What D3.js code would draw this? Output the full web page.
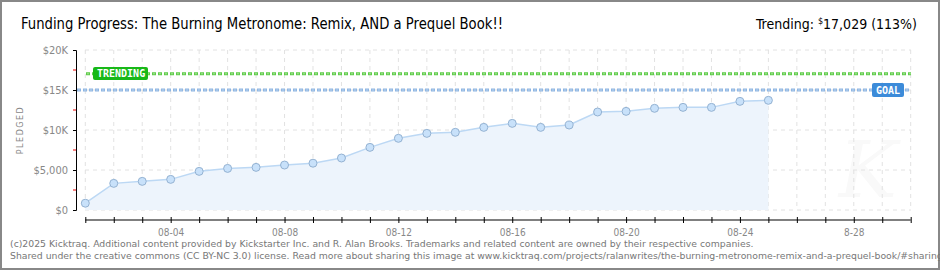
<!DOCTYPE html>
<html>
<head>
<meta charset="utf-8">
<script src="https://cdn.jsdelivr.net/npm/d3@7"></script>
<style>
  body { margin: 0; background: #fff; }
  svg { display: block; }
</style>
</head>
<body>
<svg id="chart" width="940" height="270"></svg>
<script>
// pledged totals per day, Aug 2025
var days = ["2025-08-01","2025-08-02","2025-08-03","2025-08-04","2025-08-05","2025-08-06",
  "2025-08-07","2025-08-08","2025-08-09","2025-08-10","2025-08-11","2025-08-12","2025-08-13",
  "2025-08-14","2025-08-15","2025-08-16","2025-08-17","2025-08-18","2025-08-19","2025-08-20",
  "2025-08-21","2025-08-22","2025-08-23","2025-08-24","2025-08-25"];
var pledged = [850, 3330, 3580, 3830, 4830, 5200, 5330, 5620, 5850, 6500, 7830, 8960, 9580,
  9710, 10330, 10830, 10330, 10620, 12250, 12330, 12710, 12830, 12830, 13580, 13710];
var goal = 15000;
var trending = 17029;
var yTicks = [0, 5000, 10000, 15000, 20000];
var yTickLabels = ["$0", "$5,000", "$10K", "$15K", "$20K"];
var xLabelDays = ["2025-08-04","2025-08-08","2025-08-12","2025-08-16","2025-08-20","2025-08-24","2025-08-28"];
var xLabels = ["08-04","08-08","08-12","08-16","08-20","08-24","8-28"];

var parse = d3.utcParse("%Y-%m-%d");
var fmtKey = d3.utcFormat("%Y-%m-%d");
var data = days.map(function(d, i) { return { date: parse(d), value: pledged[i] }; });

var svg = d3.select("#chart");

svg.append("rect")
  .attr("x", 1).attr("y", 1).attr("width", 938).attr("height", 268)
  .attr("fill", "#fff").attr("stroke", "#888").attr("stroke-width", 2);

var x = d3.scaleUtc()
  .domain([parse("2025-08-01"), parse("2025-08-30")])
  .range([85.3, 910.7]);
var y = d3.scaleLinear().domain([0, 20000]).range([210, 50]);

// watermark
svg.append("text")
  .attr("x", 868).attr("y", 197)
  .attr("text-anchor", "middle")
  .attr("font-family", "DejaVu Serif")
  .attr("font-style", "italic")
  .attr("font-size", 78)
  .attr("fill", "#f9f9f9")
  .text("K");

// grid
var allDays = d3.utcDay.range(x.domain()[0], d3.utcDay.offset(x.domain()[1], 1));
svg.append("g").selectAll("line")
  .data(allDays).enter().append("line")
  .attr("x1", function(d) { return x(d); }).attr("x2", function(d) { return x(d); })
  .attr("y1", 50).attr("y2", 210)
  .attr("stroke", "#e2e2e2").attr("stroke-dasharray", "4,4");
svg.append("g").selectAll("line")
  .data(yTicks).enter().append("line")
  .attr("x1", 85).attr("x2", 911)
  .attr("y1", function(d) { return y(d); }).attr("y2", function(d) { return y(d); })
  .attr("stroke", "#e2e2e2").attr("stroke-dasharray", "4,4");

// area + line
var area = d3.area()
  .x(function(d) { return x(d.date); })
  .y0(y(0))
  .y1(function(d) { return y(d.value); });
svg.append("path").datum(data)
  .attr("d", area)
  .attr("fill", "#edf4fc");
var line = d3.line()
  .x(function(d) { return x(d.date); })
  .y(function(d) { return y(d.value); });
svg.append("path").datum(data)
  .attr("d", line)
  .attr("fill", "none")
  .attr("stroke", "#bcd8f4")
  .attr("stroke-width", 1.5);

// goal and trending lines
function refLine(v, x0, outer, inner) {
  svg.append("line")
    .attr("x1", x0).attr("x2", 911).attr("y1", y(v)).attr("y2", y(v))
    .attr("stroke", outer).attr("stroke-width", 3).attr("stroke-dasharray", "4,2");
  svg.append("line")
    .attr("x1", x0 + 1).attr("x2", 911).attr("y1", y(v)).attr("y2", y(v))
    .attr("stroke", inner).attr("stroke-width", 1).attr("stroke-dasharray", "2,4");
}
refLine(goal, 77, "#8fb6e2", "#b9d3ef");
refLine(trending, 86, "#5fcb4a", "#a5e496");

// points
svg.append("g").selectAll("circle")
  .data(data).enter().append("circle")
  .attr("cx", function(d) { return x(d.date); })
  .attr("cy", function(d) { return y(d.value); })
  .attr("r", 4)
  .attr("fill", "#c8e1fa")
  .attr("stroke", "#94b2d2")
  .attr("stroke-width", 1);

// badges
function badge(bx, by, w, h, fill, label) {
  svg.append("rect")
    .attr("x", bx).attr("y", by).attr("width", w).attr("height", h)
    .attr("rx", 2).attr("fill", fill);
  svg.append("text")
    .attr("x", bx + 4).attr("y", by + h / 2 + 3.5)
    .attr("font-family", "DejaVu Sans Mono")
    .attr("font-size", 10)
    .attr("font-weight", "bold")
    .attr("fill", "#fff")
    .text(label);
}
badge(93, 67, 55, 13, "#18b818", "TRENDING");
badge(872, 83, 32, 14, "#3c8bd9", "GOAL");

// y axis
var yAxis = d3.axisLeft(y)
  .tickValues(yTicks)
  .tickSize(3)
  .tickPadding(5)
  .tickFormat(function(d, i) { return yTickLabels[i]; });
var gy = svg.append("g").attr("transform", "translate(76,0)").call(yAxis);
gy.select(".domain").attr("stroke", "#000");
gy.selectAll(".tick line").attr("stroke", "#000");
gy.selectAll("text")
  .attr("font-family", "DejaVu Sans Condensed")
  .attr("font-size", 11)
  .attr("fill", "#888");
gy.selectAll(".minor")
  .data([2500, 7500, 12500, 17500]).enter().append("line")
  .attr("class", "minor")
  .attr("x1", -3).attr("x2", 0)
  .attr("y1", function(d) { return y(d); }).attr("y2", function(d) { return y(d); })
  .attr("stroke", "#e00");

svg.append("text")
  .attr("transform", "translate(23,130) rotate(-90)")
  .attr("text-anchor", "middle")
  .attr("font-family", "DejaVu Sans")
  .attr("font-size", 8)
  .attr("letter-spacing", 1.5)
  .attr("fill", "#888")
  .text("PLEDGED");

// x axis
var xAxis = d3.axisBottom(x)
  .tickValues(allDays)
  .tickSize(3)
  .tickPadding(6)
  .tickFormat(function(d) {
    var i = xLabelDays.indexOf(fmtKey(d));
    return i >= 0 ? xLabels[i] : "";
  });
var gx = svg.append("g").attr("transform", "translate(0,220)").call(xAxis);
gx.select(".domain").attr("stroke", "#000").attr("d", "M" + x.range()[0] + ",0H" + x.range()[1]);
gx.selectAll(".tick line").attr("y1", -3).attr("stroke", "#000");
gx.selectAll("text")
  .attr("font-family", "DejaVu Sans Condensed")
  .attr("font-size", 10)
  .attr("fill", "#888");

// title
svg.append("text")
  .attr("x", 21).attr("y", 29)
  .attr("font-family", "DejaVu Sans Condensed")
  .attr("font-size", 15)
  .attr("textLength", 482)
  .attr("lengthAdjust", "spacingAndGlyphs")
  .attr("fill", "#000")
  .text("Funding Progress: The Burning Metronome: Remix, AND a Prequel Book!!");

var tr = svg.append("text")
  .attr("x", 917).attr("y", 29)
  .attr("text-anchor", "end")
  .attr("font-family", "DejaVu Sans Condensed")
  .attr("font-size", 14)
  .attr("fill", "#000");
tr.append("tspan").text("Trending:  ");
tr.append("tspan").attr("font-size", 9).attr("dy", -5).text("$");
tr.append("tspan").attr("dy", 5).text(d3.format(",")(trending) + " (" + Math.floor(trending / goal * 100) + "%)");

// footer (second line runs past the right edge, as in the original)
var foot = svg.append("g")
  .attr("font-family", "DejaVu Sans")
  .attr("font-size", 9.3)
  .attr("fill", "#777");
foot.append("text").attr("x", 10).attr("y", 247)
  .text("(c)2025 Kicktraq. Additional content provided by Kickstarter Inc. and R. Alan Brooks. Trademarks and related content are owned by their respective companies.");
foot.append("text").attr("x", 10).attr("y", 259)
  .text("Shared under the creative commons (CC BY-NC 3.0) license. Read more about sharing this image at www.kicktraq.com/projects/ralanwrites/the-burning-metronome-remix-and-a-prequel-book/#sharing");
</script>
</body>
</html>
